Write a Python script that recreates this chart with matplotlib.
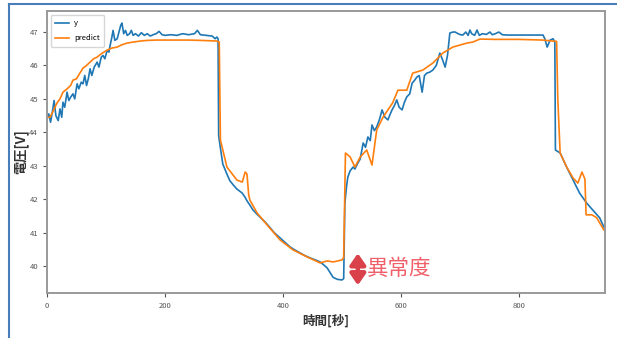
import matplotlib
matplotlib.use('Agg')
import matplotlib.pyplot as plt
from matplotlib.lines import Line2D

plt.rcParams['font.family'] = ['Noto Sans CJK JP', 'DejaVu Sans']

# measured voltage (y)
y_t = [0, 3, 6, 9, 12, 15, 19, 22, 25, 27, 30, 34, 37, 40, 44, 47, 51, 54, 58, 61,
       64, 67, 70, 73, 76, 80, 85, 88, 92, 95, 98, 102, 105, 107, 110, 112, 115, 119,
       122, 125, 127, 130, 133, 136, 140, 143, 146, 150, 155, 160, 165, 170, 175, 180,
       185, 190, 195, 200, 210, 220, 230, 240, 250, 255, 260, 270, 280, 285, 288, 290,
       291, 293, 298, 305, 310, 316, 322, 331, 336, 339, 344, 349, 356, 366, 373, 378,
       385, 395, 405, 412, 420, 429, 436, 446, 455, 463, 470, 475, 480, 485, 492, 500,
       503, 505, 508, 510, 514, 519, 522, 527, 531, 536, 540, 544, 548, 551, 555, 559,
       564, 568, 573, 578, 582, 585, 589, 593, 597, 602, 606, 610, 615, 619, 623, 627,
       631, 636, 640, 644, 649, 654, 660, 666, 670, 675, 679, 683, 688, 692, 697, 701,
       705, 710, 714, 717, 720, 725, 729, 733, 738, 745, 751, 755, 760, 766, 772, 780,
       785, 800, 820, 841, 844, 848, 853, 858, 861, 862, 870, 881, 892, 903, 915, 925,
       937, 944, 946]
y_v = [44.40, 44.55, 44.30, 44.60, 44.95, 44.50, 44.35, 44.70, 44.45, 44.90, 44.75, 45.20,
       44.95, 45.05, 45.15, 45.00, 45.45, 45.30, 45.50, 45.45, 45.70, 45.40, 45.60, 45.90,
       45.70, 45.95, 46.10, 45.95, 46.25, 46.30, 46.20, 46.45, 46.40, 46.60, 46.85, 47.05,
       46.75, 46.80, 47.00, 47.20, 47.27, 46.95, 47.05, 46.90, 46.95, 47.05, 46.90, 46.95,
       46.88, 46.98, 46.90, 46.95, 46.88, 46.92, 46.95, 47.02, 46.92, 46.90, 46.92, 46.90,
       46.95, 46.92, 46.95, 47.05, 46.92, 46.90, 46.88, 46.80, 46.85, 46.80,
       43.90, 43.65, 43.05, 42.75, 42.55, 42.42, 42.30, 42.18, 42.05, 41.95, 41.82, 41.68,
       41.55, 41.38, 41.25, 41.15, 41.00, 40.84, 40.68, 40.57, 40.48, 40.39, 40.32, 40.24,
       40.18, 40.12, 40.02, 39.94, 39.80, 39.66, 39.60, 39.58,
       39.62, 41.88, 42.40, 42.66, 42.85, 42.96, 42.90, 43.08, 43.20, 43.68, 43.55, 43.86,
       43.75, 44.22, 44.05, 44.16, 44.40, 44.67, 44.45, 44.37, 44.55, 44.67, 44.80, 44.97,
       44.75, 44.67, 44.90, 45.06, 45.15, 45.47, 45.55, 45.65, 45.70, 45.20, 45.70, 45.77,
       45.80, 45.86, 46.00, 46.37, 46.20, 45.95, 46.30, 46.97, 47.00, 47.00, 46.95, 46.92,
       46.91, 47.00, 46.90, 47.06, 46.95, 46.90, 47.06, 46.90, 46.95, 46.93, 47.00, 46.92,
       46.95, 47.00, 46.92, 46.91, 46.91, 46.91, 46.91, 46.91, 46.80, 46.55, 46.76, 46.80,
       46.70, 43.47, 43.38, 42.96, 42.57, 42.18, 41.88, 41.68, 41.44, 41.17, 41.12]

# model prediction
p_t = [0, 5, 10, 17, 22, 27, 34, 40, 44, 50, 55, 61, 67, 73, 79, 85, 92, 102, 110, 119,
       127, 136, 146, 158, 170, 186, 200, 220, 240, 260, 275, 288, 292, 294, 305, 322,
       331, 336, 339, 342, 344, 356, 373, 395, 417, 441, 463, 475, 485, 493, 500, 503,
       506, 514, 522, 531, 542, 551, 559, 570, 586, 595, 610, 620, 637, 654, 671, 688,
       712, 722, 734, 760, 800, 840, 858, 864, 866, 870, 881, 892, 900, 907, 912, 914,
       924, 932, 944, 946]
p_v = [44.45, 44.45, 44.62, 44.88, 45.00, 45.20, 45.30, 45.40, 45.56, 45.60, 45.75, 45.92,
       46.00, 46.10, 46.20, 46.25, 46.35, 46.46, 46.52, 46.55, 46.62, 46.67, 46.70, 46.73,
       46.75, 46.76, 46.76, 46.76, 46.76, 46.75, 46.74, 46.73, 46.70, 43.77, 42.96, 42.57,
       42.51, 42.81, 42.75, 42.12, 41.97, 41.59, 41.23, 40.78, 40.48, 40.27, 40.09, 40.15,
       40.12, 40.15, 40.18, 40.25, 43.38, 43.26, 42.96, 43.26, 43.47, 43.02, 44.07, 44.46,
       44.88, 45.26, 45.26, 45.77, 45.86, 46.07, 46.37, 46.55, 46.67, 46.70, 46.79, 46.78,
       46.78, 46.76, 46.73, 46.72, 45.00, 43.38, 42.96, 42.63, 42.48, 42.81, 42.60, 41.53,
       41.53, 41.44, 41.08, 41.05]

yticks = [40, 41, 42, 43, 44, 45, 46, 47]
xticks = [0, 200, 400, 600, 800]

fig = plt.figure(figsize=(6.17, 3.38), dpi=100)
ax = fig.add_axes([0.0762, 0.1331, 0.9043, 0.8344])

ax.plot(y_t, y_v, color='#1f77b4', lw=1.2, label='y')
ax.plot(p_t, p_v, color='#ff7f0e', lw=1.2, label='predict')

ax.set_xlim(0, 946)
ax.set_ylim(39.19, 47.63)
ax.set_xticks(xticks)
ax.set_yticks(yticks)
ax.tick_params(labelsize=5.5, colors='#555555', length=3)
for s in ax.spines.values():
    s.set_color('#999999')
    s.set_linewidth(1.4)

ax.set_xlabel('時間[秒]', fontsize=9, fontweight='bold', color='#333333', labelpad=3)
ax.set_ylabel('電圧[V]', fontsize=9.5, fontweight='bold', color='#333333', labelpad=1)
ax.legend(loc='upper left', fontsize=5.5, handlelength=1.8, borderpad=0.6,
          labelspacing=0.9, handletextpad=0.6)

# gap between measured and predicted at the minimum
ax.annotate('', xy=(527, 40.38), xytext=(527, 39.42),
            arrowprops=dict(arrowstyle='<|-|>,head_length=0.55,head_width=0.38',
                            color='#d9414b', lw=3.2, mutation_scale=12,
                            shrinkA=0, shrinkB=0))
ax.text(543, 39.92, '異常度', color='#f0606a', fontsize=15.5, va='center', ha='left')

# blue frame around the figure (left and top edges)
fig.add_artist(Line2D([0.0146, 0.0146], [0, 0.988], color='#4a7ebb', lw=1.5,
                      transform=fig.transFigure))
fig.add_artist(Line2D([0.0146, 1.0], [0.988, 0.988], color='#4a7ebb', lw=1.5,
                      transform=fig.transFigure))

fig.savefig('out.png', dpi=100)
